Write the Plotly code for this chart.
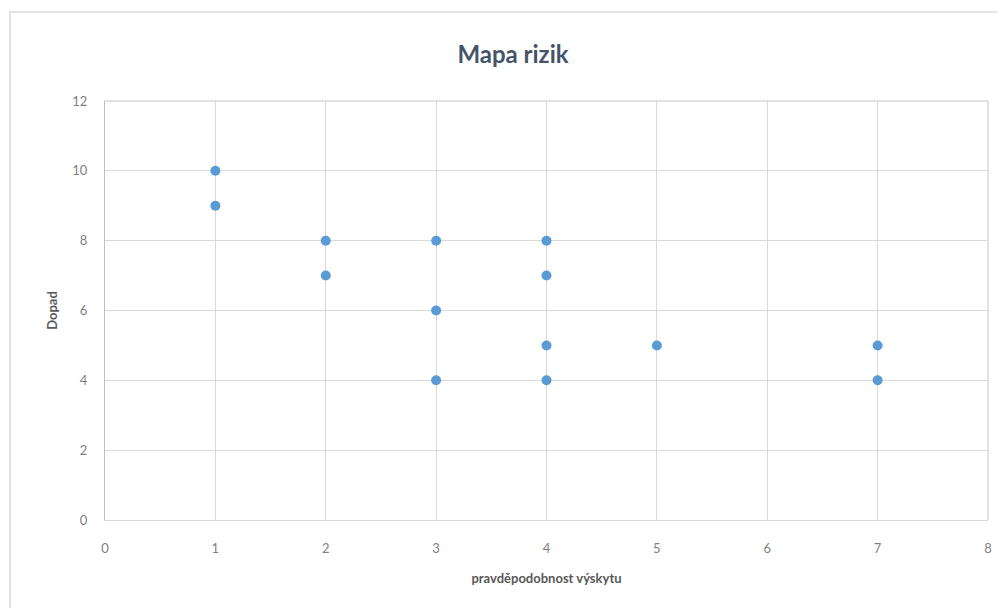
import plotly.graph_objects as go

probability = [1, 1, 2, 2, 3, 3, 3, 4, 4, 4, 4, 5, 7, 7]
impact = [10, 9, 8, 7, 8, 6, 4, 8, 7, 5, 4, 5, 5, 4]

fig = go.Figure()
fig.add_trace(go.Scatter(
    x=probability, y=impact, mode="markers",
    marker=dict(color="#5b9bd5", size=10),
    showlegend=False,
))

fig.update_layout(
    width=997, height=600,
    margin=dict(l=97, r=17, t=93, b=88),
    paper_bgcolor="white", plot_bgcolor="rgba(0,0,0,0)",
    font=dict(family="Lato, Open Sans, sans-serif", color="#7f7f7f", size=13),
    title=dict(text="<b>Mapa rizik</b>", x=0.5065, xanchor="center", y=0.9217, yanchor="middle",
               font=dict(size=24, color="#44546a")),
    xaxis=dict(range=[0, 8], dtick=1, showgrid=True, gridcolor="#d9d9d9", gridwidth=1,
               zeroline=False, showline=True, linecolor="#d9d9d9", mirror=False,
               ticks="", ticklabelstandoff=16,
               title=dict(text="<b>pravděpodobnost výskytu</b>", font=dict(size=13, color="#595959"), standoff=19)),
    yaxis=dict(range=[0, 12], dtick=2, showgrid=True, gridcolor="#d9d9d9", gridwidth=1,
               zeroline=False, showline=True, linecolor="#bfbfbf",
               ticks="", ticklabelstandoff=14,
               title=dict(text="<b>Dopad</b>", font=dict(size=13, color="#595959"), standoff=11)),
    shapes=[
        dict(type="rect", xref="paper", yref="paper",
             x0=-0.1076, x1=1.1, y0=-0.4, y1=1.2124,
             line=dict(color="#d9d9d9", width=1.5), layer="below"),
        dict(type="line", xref="paper", yref="paper",
             x0=1, x1=1, y0=0, y1=1,
             line=dict(color="#d9d9d9", width=1.5), layer="above"),
        dict(type="line", xref="paper", yref="paper",
             x0=0, x1=1, y0=1, y1=1,
             line=dict(color="#d9d9d9", width=1.5), layer="above"),
    ],
)

fig.write_html("out.html")
